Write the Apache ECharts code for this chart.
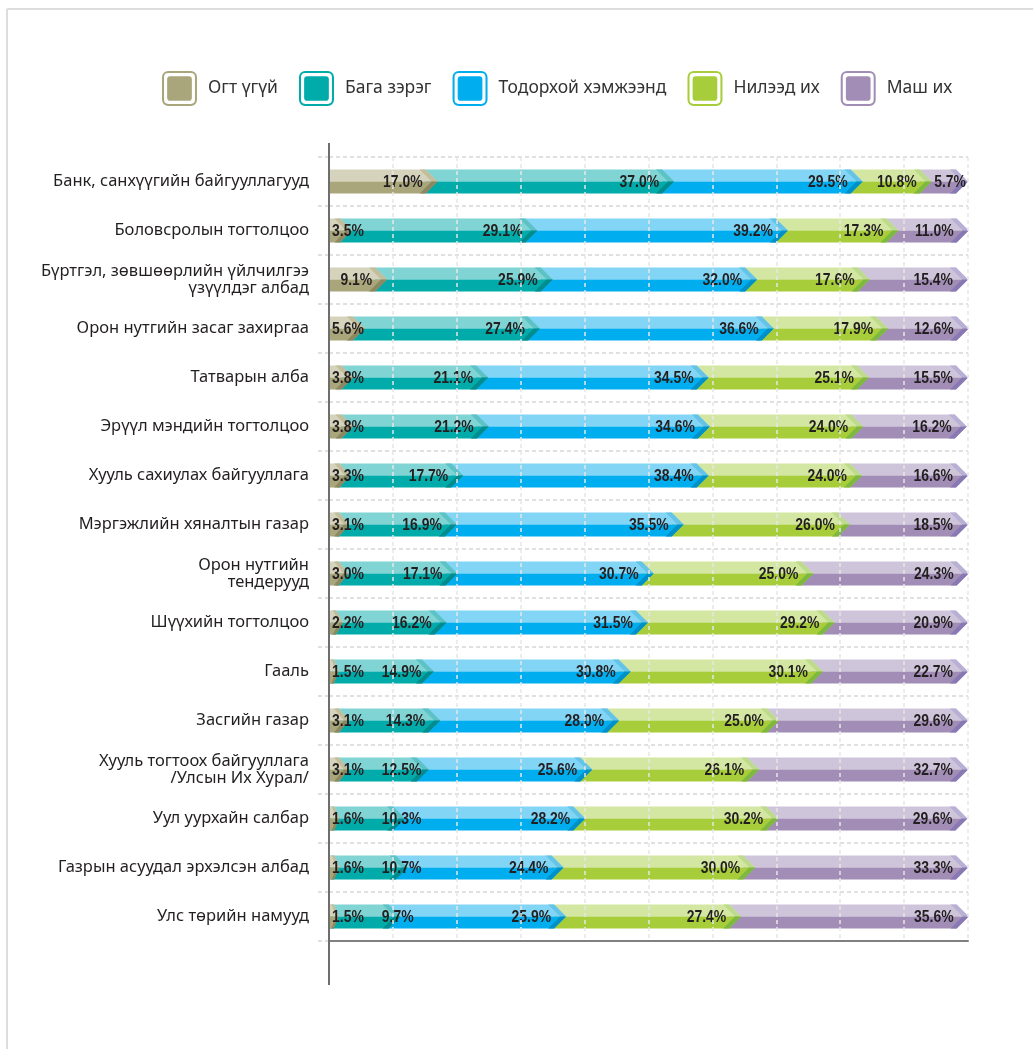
<!DOCTYPE html>
<html><head><meta charset="utf-8">
<script src="https://cdn.jsdelivr.net/npm/echarts@6/dist/echarts.min.js"></script>
<style>html,body{margin:0;padding:0;background:#fff}#c{width:1033px;height:1049px}</style>
</head><body><div id="c"></div>
<script>
const categories = [
  'Банк, санхүүгийн байгууллагууд',
  'Боловсролын тогтолцоо',
  'Бүртгэл, зөвшөөрлийн үйлчилгээ\nүзүүлдэг албад',
  'Орон нутгийн засаг захиргаа',
  'Татварын алба',
  'Эрүүл мэндийн тогтолцоо',
  'Хууль сахиулах байгууллага',
  'Мэргэжлийн хяналтын газар',
  'Орон нутгийн\nтендерууд',
  'Шүүхийн тогтолцоо',
  'Гааль',
  'Засгийн газар',
  'Хууль тогтоох байгууллага\n/Улсын Их Хурал/',
  'Уул уурхайн салбар',
  'Газрын асуудал эрхэлсэн албад',
  'Улс төрийн намууд'
];
const seriesNames = ['Огт үгүй', 'Бага зэрэг', 'Тодорхой хэмжээнд', 'Нилээд их', 'Маш их'];
const ogtUgui   = [17.0, 3.5, 9.1, 5.6, 3.8, 3.8, 3.3, 3.1, 3.0, 2.2, 1.5, 3.1, 3.1, 1.6, 1.6, 1.5];
const bagaZereg = [37.0, 29.1, 25.9, 27.4, 21.1, 21.2, 17.7, 16.9, 17.1, 16.2, 14.9, 14.3, 12.5, 10.3, 10.7, 9.7];
const todorkhoi = [29.5, 39.2, 32.0, 36.6, 34.5, 34.6, 38.4, 35.5, 30.7, 31.5, 30.8, 28.0, 25.6, 28.2, 24.4, 25.9];
const nileed    = [10.8, 17.3, 17.6, 17.9, 25.1, 24.0, 24.0, 26.0, 25.0, 29.2, 30.1, 25.0, 26.1, 30.2, 30.0, 27.4];
const mashIh    = [5.7, 11.0, 15.4, 12.6, 15.5, 16.2, 16.6, 18.5, 24.3, 20.9, 22.7, 29.6, 32.7, 29.6, 33.3, 35.6];
const allValues = [ogtUgui, bagaZereg, todorkhoi, nileed, mashIh];

const baseColors  = ['#A9A67B', '#00ABA9', '#00AEEF', '#A7CE3A', '#A28DB6'];
const lightColors = ['#D6D3BC', '#80D4D4', '#82D5F5', '#D4E7A2', '#CFC5DB'];
const tipTop      = ['#C2BE9C', '#5CC2C6', '#66C3E8', '#BDDB8C', '#B9B0D6'];
const tipBottom   = ['#8C8962', '#008C8E', '#0090C8', '#7DB93E', '#8879B5'];

const TIP = 12, BAND = 6, BAR_H = 24;

const legendIcon = 'path://M6,0 H28 A6,6 0 0 1 34,6 V28 A6,6 0 0 1 28,34 H6 A6,6 0 0 1 0,28 V6 A6,6 0 0 1 6,0 Z ' +
  'M6,2 A4,4 0 0 0 2,6 V28 A4,4 0 0 0 6,32 H28 A4,4 0 0 0 32,28 V6 A4,4 0 0 0 28,2 Z ' +
  'M8,5 H26 A3,3 0 0 1 29,8 V26 A3,3 0 0 1 26,29 H8 A3,3 0 0 1 5,26 V8 A3,3 0 0 1 8,5 Z';

const labelFont = 'bold 17px "Liberation Sans", Arial, sans-serif';
const LABEL_SCALE = 0.82;
const measureCtx = document.createElement('canvas').getContext('2d');
function textWidth(t) { measureCtx.font = labelFont; return measureCtx.measureText(t).width * LABEL_SCALE; }

function segRender(k) {
  return function (params, api) {
    const row = api.value(0), s = api.value(1), e = api.value(2);
    const ps = api.coord([s, row]), pe = api.coord([e, row]);
    const origin = api.coord([0, row])[0];
    const mid = ps[1], top = mid - BAR_H / 2, bot = mid + BAR_H / 2;
    const xe = pe[0];
    const T = k === 0 ? Math.min(TIP, (xe - ps[0]) * 0.5) : TIP;
    const B = Math.min(BAND, T / 2);
    const x0 = k === 0 ? ps[0] : ps[0] - TIP;
    const c = x => Math.max(x, origin);
    const poly = (pts, fill) => ({ type: 'polygon', shape: { points: pts.map(p => [c(p[0]), p[1]]) }, style: { fill: fill } });
    return {
      type: 'group',
      children: [
        poly([[x0, top], [xe - T, top], [xe, mid], [x0, mid]], lightColors[k]),
        poly([[x0, mid], [xe, mid], [xe - T, bot], [x0, bot]], baseColors[k]),
        poly([[xe - T - B, top], [xe - T, top], [xe, mid], [xe - B, mid]], tipTop[k]),
        poly([[xe - B, mid], [xe, mid], [xe - T, bot], [xe - T - B, bot]], tipBottom[k])
      ]
    };
  };
}

const series = seriesNames.map((name, k) => ({
  name: name,
  type: 'custom',
  z: 10 - k,
  itemStyle: { color: baseColors[k] },
  renderItem: segRender(k),
  encode: { x: [1, 2], y: 0 },
  data: categories.map((_, i) => {
    let s = 0;
    for (let j = 0; j < k; j++) s += allValues[j][i];
    return [i, s, s + allValues[k][i]];
  })
}));

series.push({
  name: 'labels',
  type: 'custom',
  z: 12,
  silent: true,
  encode: { x: [1, 2, 3, 4, 5], y: 0 },
  data: categories.map((_, i) => [i].concat(allValues.map(v => v[i]))),
  renderItem: function (params, api) {
    const row = api.value(0);
    const origin = api.coord([0, row]);
    const endX = api.coord([100, row])[0];
    let cum = 0, prevRight = -Infinity;
    const children = [];
    for (let k = 0; k < 5; k++) {
      const v = api.value(k + 1);
      cum += v;
      const txt = v.toFixed(1) + '%';
      const w = textWidth(txt);
      const xe = api.coord([cum, row])[0];
      let left = Math.min(xe - 15, endX - 2) - w;
      if (left < origin[0] + 3) left = origin[0] + 3;
      if (k > 0 && left < prevRight + 18) left = prevRight + 18;
      if (left + w > endX - 2) left = endX - 2 - w;
      prevRight = left + w;
      children.push({
        type: 'text',
        x: left, y: origin[1] + 1,
        scaleX: LABEL_SCALE,
        style: { text: txt, font: labelFont, fill: '#231F20', align: 'left', verticalAlign: 'middle', textAlign: 'left', textVerticalAlign: 'middle' }
      });
    }
    return { type: 'group', children: children };
  }
});

const chart = echarts.init(document.getElementById('c'), null, { renderer: 'canvas' });
chart.setOption({
  backgroundColor: '#ffffff',
  animation: false,
  legend: {
    data: seriesNames,
    left: 157,
    top: 66,
    icon: legendIcon,
    itemWidth: 35,
    itemHeight: 35,
    itemGap: 21,
    selectedMode: false,
    textStyle: { fontSize: 17.5, color: '#333333', fontFamily: '"Noto Sans", sans-serif', padding: [2, 0, 0, 6] }
  },
  grid: { left: 329, right: 65, top: 157, height: 784, containLabel: false },
  xAxis: {
    type: 'value', min: 0, max: 100, interval: 10, z: 20,
    axisLabel: { show: false }, axisTick: { show: false },
    axisLine: { show: true, lineStyle: { color: '#808080', width: 2 } },
    splitLine: { show: true, lineStyle: { color: '#E6E6E6', width: 1.5, type: [4, 3] } }
  },
  yAxis: {
    type: 'category', data: categories, inverse: true,
    axisLine: { show: false },
    axisTick: { show: true, length: 11, lineStyle: { color: '#D6D6D6', width: 1.5, type: [4, 3] } },
    splitLine: { show: true, lineStyle: { color: '#D6D6D6', width: 1.5, type: [4, 3] } },
    axisLabel: { margin: 20, fontSize: 16.5, lineHeight: 17, color: '#231F20', fontFamily: '"Noto Sans", sans-serif' }
  },
  graphic: [
    { type: 'line', z: 100, shape: { x1: 7, y1: 9, x2: 1033, y2: 9 }, style: { stroke: '#DDDDDD', lineWidth: 2 } },
    { type: 'line', z: 100, shape: { x1: 7, y1: 9, x2: 7, y2: 1049 }, style: { stroke: '#DDDDDD', lineWidth: 2 } },
    { type: 'line', z: 100, shape: { x1: 329, y1: 143, x2: 329, y2: 985 }, style: { stroke: '#6E6E6E', lineWidth: 2 } }
  ],
  series: series
});
</script>
</body></html>
